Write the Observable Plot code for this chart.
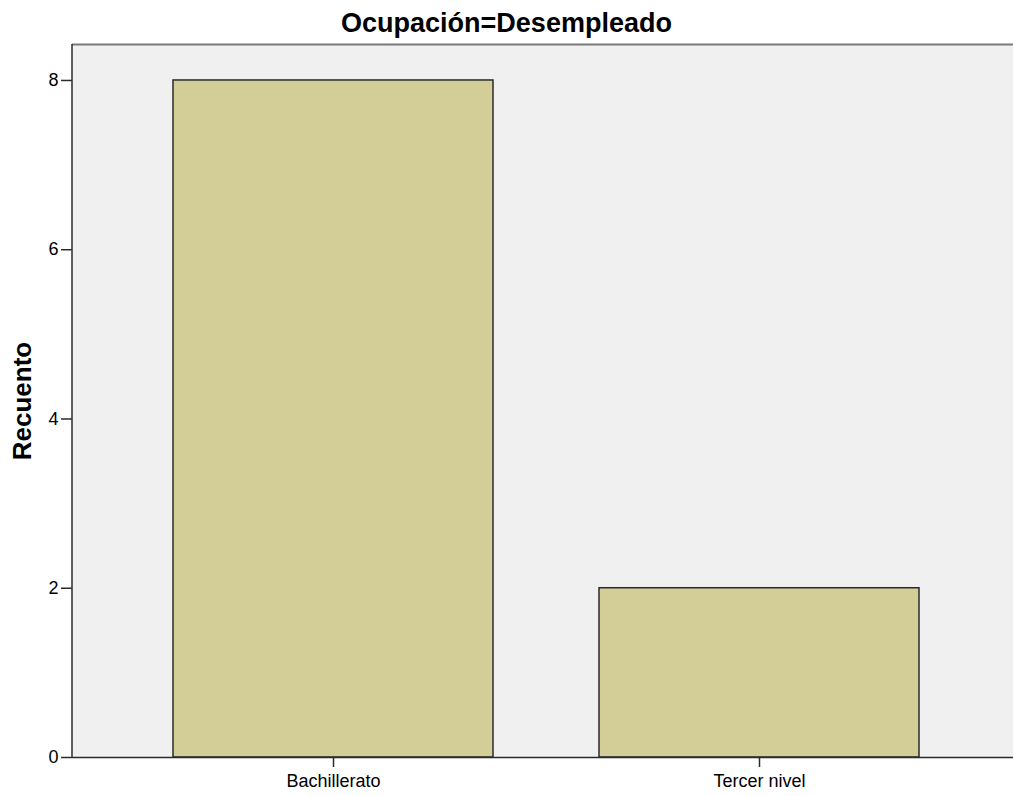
<!DOCTYPE html>
<html>
<head>
<meta charset="utf-8">
<script src="https://cdn.jsdelivr.net/npm/d3@7"></script>
<script src="https://cdn.jsdelivr.net/npm/@observablehq/plot@0.6"></script>
<style>
  html, body { margin: 0; padding: 0; background: #ffffff; }
  #wrap { width: 1013px; height: 796px; overflow: hidden; position: relative; }
  #title { height: 40px; line-height: 46px; text-align: center; font-family: "Liberation Sans", Arial, sans-serif; font-weight: bold; font-size: 27px; color: #000; white-space: nowrap; }
  svg { display: block; }
</style>
</head>
<body>
<div id="wrap">
  <div id="title">Ocupación=Desempleado</div>
  <div id="chart"></div>
</div>
<script>
const categories = ["Bachillerato", "Tercer nivel"];
const counts = [8, 2];
const yTicks = [0, 2, 4, 6, 8];
const yMax = 8.425;
const yLabel = "Recuento";

const data = categories.map((c, i) => ({ nivel: c, recuento: counts[i] }));

const chart = Plot.plot({
  width: 1013,
  height: 756,
  marginTop: 4,
  marginBottom: 39,
  marginLeft: 72,
  marginRight: 0,
  style: { fontFamily: "'Liberation Sans', Arial, sans-serif", background: "transparent", color: "#000" },
  x: { type: "band", domain: categories, range: [72, 1020], paddingInner: 0.25, paddingOuter: 0.236 },
  y: { domain: [0, yMax] },
  marks: [
    Plot.frame({ fill: "#f0f0f0", stroke: "none" }),
    Plot.ruleY([yMax], { stroke: "#7a7a7a", strokeWidth: 2 }),
    Plot.barY(data, { x: "nivel", y: "recuento", fill: "#d3ce97", stroke: "#2b2b2b", strokeWidth: 1.5 }),
    Plot.ruleY([0], { stroke: "#2b2b2b", strokeWidth: 1.5 }),
    Plot.axisY({ ticks: yTicks, tickFormat: d3.format("d"), tickSize: 11, tickPadding: 3, fontSize: 18, stroke: "#2b2b2b", strokeWidth: 1.5,
      label: yLabel, labelArrow: "none", labelAnchor: "center", labelOffset: 60 }),
    Plot.axisX({ tickSize: 10, tickPadding: 7, fontSize: 18, stroke: "#2b2b2b", strokeWidth: 1.5, label: null })
  ]
});
document.getElementById("chart").appendChild(chart);
// left axis line along the plot's left edge
const svgns = "http://www.w3.org/2000/svg";
const ys = chart.scale("y");
const leftLine = document.createElementNS(svgns, "line");
leftLine.setAttribute("x1", 72); leftLine.setAttribute("x2", 72);
leftLine.setAttribute("y1", ys.apply(yMax)); leftLine.setAttribute("y2", ys.apply(0));
leftLine.setAttribute("stroke", "#2b2b2b"); leftLine.setAttribute("stroke-width", 1.5);
chart.appendChild(leftLine);
// style the y axis label
chart.querySelectorAll("[aria-label='y-axis label']").forEach(el => {
  el.setAttribute("font-weight", "bold");
  el.setAttribute("font-size", "26");
  el.querySelectorAll("text").forEach(t => { t.textContent = t.textContent.replace(/[↑↓]/g, "").trim(); });
});
</script>
</body>
</html>
